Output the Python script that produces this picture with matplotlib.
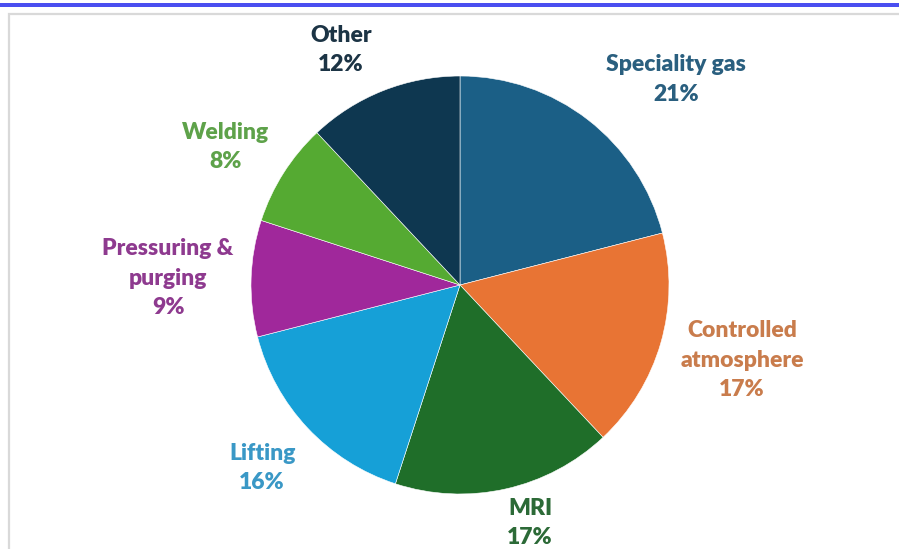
import matplotlib
matplotlib.use("Agg")
import matplotlib.pyplot as plt
from matplotlib.patches import Rectangle

# gas usage by application, percent
categories = ["Speciality gas", "Controlled\natmosphere", "MRI", "Lifting",
              "Pressuring &\npurging", "Welding", "Other"]
shares = [21, 17, 17, 16, 9, 8, 12]

wedge_colors = ["#1b5f86", "#e87434", "#1f6e29", "#16a0d7", "#a0289b", "#55aa32", "#0e3750"]
text_colors = ["#2a5f7f", "#c97c4c", "#2c6a37", "#3a98c6", "#8e3a8f", "#5ea24a", "#1c3445"]

# label anchors, in units of the pie radius
label_xy = [(1.033, 0.983), (1.349, -0.359), (0.335, -1.139), (-0.947, -0.876),
            (-1.397, 0.033), (-1.124, 0.660), (-0.569, 1.124)]

W, H = 899, 549
fig = plt.figure(figsize=(W / 100, H / 100), dpi=100)
fig.patch.set_facecolor("white")

# blue strip across the top and the grey chart frame
fig.patches.append(Rectangle((0, 1 - 7 / H), 1, 3.8 / H, transform=fig.transFigure,
                             facecolor="#4a4ef0", edgecolor="none"))
fig.patches.append(Rectangle((9 / W, -0.01), 1.1, 1 - 14 / H + 0.01, transform=fig.transFigure,
                             facecolor="none", edgecolor="#d9d9d9", linewidth=1.6))

cx, cy, r = 460, 285, 209
ax = fig.add_axes([(cx - r) / W, (H - cy - r) / H, 2 * r / W, 2 * r / H])
ax.pie(shares, colors=wedge_colors, startangle=90, counterclock=False, radius=1,
       wedgeprops=dict(edgecolor="white", linewidth=0.4))
ax.set_xlim(-1, 1)
ax.set_ylim(-1, 1)
ax.axis("off")

for name, val, col, (x, y) in zip(categories, shares, text_colors, label_xy):
    ax.text(x, y, f"{name}\n{val}%", ha="center", va="center", color=col,
            fontsize=16.5, fontweight="heavy", family="Lato", linespacing=1.5)

fig.savefig("out.png", dpi=100)
